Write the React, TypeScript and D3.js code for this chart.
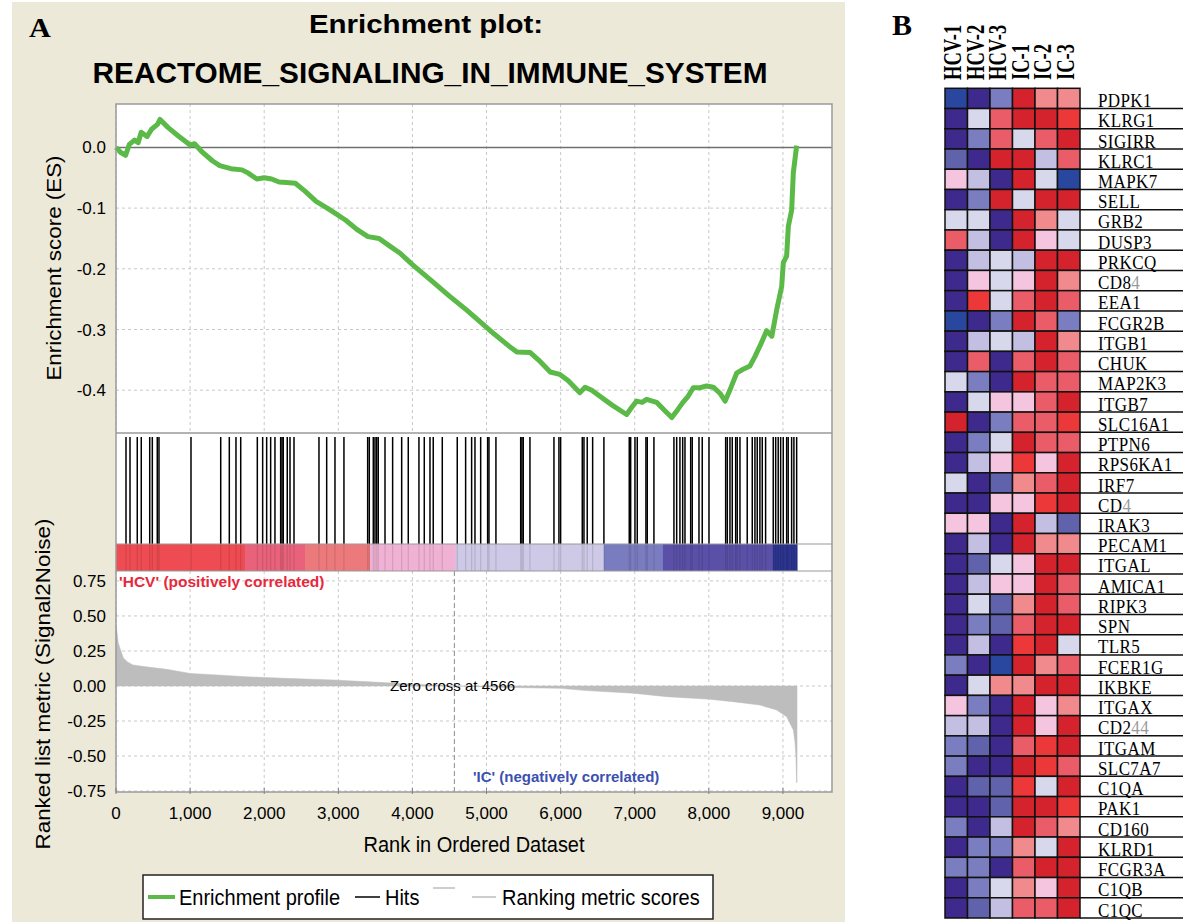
import React from "react";
import * as d3 from "d3";

const TITLE_LINE1 = "Enrichment plot:";
const TITLE_LINE2 = "REACTOME_SIGNALING_IN_IMMUNE_SYSTEM";

// Running enrichment score: [rank, ES]
const esPoints: [number, number][] = [
  [0, 0], [60, -0.008], [130, -0.013], [180, 0.005], [250, 0.012], [300, 0.008], [340, 0.025],
  [420, 0.018], [480, 0.03], [560, 0.038], [594, 0.046], [700, 0.033], [850, 0.018], [1000, 0.004],
  [1060, 0.006], [1150, -0.006], [1300, -0.022], [1400, -0.03], [1550, -0.035], [1700, -0.037],
  [1780, -0.042], [1900, -0.052], [2000, -0.05], [2100, -0.052], [2200, -0.057], [2300, -0.058],
  [2420, -0.059], [2550, -0.072], [2700, -0.089], [2850, -0.1], [2950, -0.108], [3100, -0.12],
  [3250, -0.135], [3400, -0.147], [3550, -0.15], [3700, -0.163], [3830, -0.174], [4000, -0.193],
  [4280, -0.222], [4500, -0.245], [4733, -0.268], [5050, -0.302], [5300, -0.327], [5410, -0.337],
  [5590, -0.338], [5700, -0.35], [5860, -0.37], [5990, -0.374], [6100, -0.384], [6260, -0.404],
  [6330, -0.395], [6420, -0.4], [6530, -0.41], [6700, -0.425], [6890, -0.44], [6960, -0.428],
  [7025, -0.418], [7100, -0.42], [7160, -0.415], [7295, -0.42], [7400, -0.433], [7500, -0.445],
  [7580, -0.432], [7650, -0.42], [7720, -0.41], [7790, -0.396], [7880, -0.396], [7970, -0.393],
  [8060, -0.395], [8150, -0.405], [8220, -0.418], [8300, -0.395], [8375, -0.372], [8470, -0.365],
  [8555, -0.36], [8620, -0.345], [8690, -0.327], [8780, -0.302], [8850, -0.311], [8915, -0.268],
  [8983, -0.229], [9005, -0.19], [9050, -0.179], [9073, -0.13], [9118, -0.103], [9140, -0.042],
  [9185, 0.003],
];

// Ranks of gene-set members (hits)
const hitRanks: number[] = [
  135, 189, 287, 341, 455, 490, 557, 580, 1012, 1413, 1529, 1619, 1683, 1907, 1979, 2033, 2087,
  2145, 2222, 2240, 2257, 2311, 2348, 2402, 2739, 2843, 2955, 3076, 3396, 3418, 3472, 3495, 3518,
  3539, 3630, 3733, 3855, 3944, 4088, 4160, 4237, 4281, 4403, 4605, 4718, 4799, 4844, 4921, 5015,
  5033, 5127, 5461, 5478, 5496, 5586, 5910, 5977, 6000, 6292, 6315, 6359, 6432, 6584, 6926, 6945,
  7003, 7034, 7151, 7169, 7259, 7529, 7566, 7610, 7647, 7678, 7755, 7776, 7867, 7911, 8002, 8227,
  8249, 8285, 8316, 8362, 8383, 8420, 8518, 8586, 8622, 8653, 8689, 8721, 8766, 8869, 8902, 8936,
  8969, 9004, 9050, 9071, 9117, 9148, 9185,
];

// Ranked list metric (Signal2Noise): [rank, value]
const metricPoints: [number, number][] = [
  [0, 0.436], [15, 0.38], [30, 0.31], [54, 0.27], [99, 0.2], [160, 0.17], [230, 0.15], [458, 0.133],
  [684, 0.119], [1000, 0.09], [1358, 0.079], [1763, 0.066], [2257, 0.055], [2932, 0.043],
  [3607, 0.024], [4100, 0.01], [4566, 0], [5300, -0.01], [5991, -0.017], [6351, -0.033],
  [6980, -0.052], [7430, -0.076], [8015, -0.095], [8325, -0.112], [8690, -0.136], [8914, -0.171],
  [9050, -0.219], [9140, -0.314], [9162, -0.4], [9175, -0.5], [9185, -0.69], [9190, -0.69],
];

// Color bar: rank boundaries and colours of the segments
const colorBarStops: number[] = [0, 1741, 2550, 3427, 4583, 6584, 7381, 8865, 9190];
const colorBarColors: string[] = [
  "#ee4c52", "#e8627c", "#ec7a7c", "#f0b2d4", "#cdc9e6", "#7a7cc0", "#5a50a8", "#2c3590",
];

const xTicks: number[] = [0, 1000, 2000, 3000, 4000, 5000, 6000, 7000, 8000, 9000];
const esTicks: number[] = [0, -0.1, -0.2, -0.3, -0.4];
const metricTicks: number[] = [0.75, 0.5, 0.25, 0, -0.25, -0.5, -0.75];
const ZERO_CROSS = 4566;

const samples: string[] = ["HCV-1", "HCV-2", "HCV-3", "IC-1", "IC-2", "IC-3"];
const genes: string[] = [
  "PDPK1", "KLRG1", "SIGIRR", "KLRC1", "MAPK7", "SELL", "GRB2", "DUSP3", "PRKCQ", "CD84", "EEA1",
  "FCGR2B", "ITGB1", "CHUK", "MAP2K3", "ITGB7", "SLC16A1", "PTPN6", "RPS6KA1", "IRF7", "CD4",
  "IRAK3", "PECAM1", "ITGAL", "AMICA1", "RIPK3", "SPN", "TLR5", "FCER1G", "IKBKE", "ITGAX", "CD244",
  "ITGAM", "SLC7A7", "C1QA", "PAK1", "CD160", "KLRD1", "FCGR3A", "C1QB", "C1QC",
];
// number of trailing characters printed in grey in the original label
const greyTail: Record<string, number> = { CD84: 1, CD4: 1, CD244: 2 };

// expression level index (0 = deep blue ... 10 = deep red), one row per gene
const heatLevels: number[][] = [
  [1, 0, 3, 10, 7, 7],
  [0, 5, 8, 10, 10, 9],
  [0, 3, 8, 5, 8, 10],
  [2, 0, 10, 10, 4, 8],
  [6, 4, 0, 10, 5, 1],
  [0, 3, 10, 5, 10, 10],
  [5, 5, 0, 10, 7, 5],
  [8, 4, 0, 10, 6, 5],
  [0, 4, 5, 4, 10, 10],
  [0, 6, 5, 6, 10, 7],
  [0, 9, 5, 8, 10, 8],
  [1, 0, 3, 10, 8, 3],
  [0, 4, 5, 4, 10, 7],
  [0, 8, 0, 8, 10, 8],
  [5, 3, 0, 10, 8, 8],
  [0, 5, 6, 6, 8, 10],
  [10, 0, 3, 8, 8, 9],
  [0, 3, 5, 10, 8, 8],
  [0, 4, 6, 9, 6, 10],
  [5, 0, 2, 7, 8, 10],
  [0, 0, 6, 6, 9, 10],
  [6, 6, 0, 10, 4, 2],
  [0, 4, 0, 10, 7, 7],
  [0, 2, 5, 6, 10, 10],
  [0, 4, 6, 6, 10, 8],
  [0, 5, 2, 7, 10, 8],
  [0, 3, 2, 8, 10, 10],
  [0, 4, 0, 9, 10, 5],
  [3, 0, 1, 10, 7, 8],
  [0, 5, 7, 7, 10, 10],
  [6, 3, 0, 10, 6, 7],
  [4, 4, 0, 10, 6, 10],
  [3, 2, 0, 8, 9, 10],
  [3, 0, 0, 10, 9, 8],
  [0, 2, 2, 9, 5, 10],
  [0, 0, 2, 10, 10, 9],
  [3, 0, 4, 10, 8, 7],
  [0, 3, 3, 7, 5, 10],
  [3, 3, 0, 8, 10, 10],
  [0, 3, 5, 7, 6, 10],
  [0, 2, 4, 8, 8, 10],
];
const heatPalette: string[] = [
  "#3e2a8c", "#2a47a0", "#6062ac", "#7a7ec0", "#c3bfe2", "#d8d8ec",
  "#f5c4de", "#f08a8c", "#ea5c68", "#ec3838", "#d5232d",
];

const SANS = "'Liberation Sans', Arial, sans-serif";
const SERIF = "'Liberation Serif', 'Times New Roman', serif";

export default function App() {
  // panel A geometry
  const left = 116, right = 832;
  const esTop = 104, esBottom = 433;
  const hitsTop = 433, hitsBottom = 544;
  const barBottom = 571;
  const metTop = 571, metBottom = 792;

  const x = d3.scaleLinear().domain([0, 9662]).range([left, right]);
  const yEs = d3.scaleLinear().domain([-0.4705, 0.0715]).range([esBottom, esTop]);
  const yMet = d3.scaleLinear().domain([-0.757, 0.821]).range([metBottom, metTop]);

  const esLine = d3.line<[number, number]>().x((d) => x(d[0])).y((d) => yEs(d[1]));
  const metArea = d3
    .area<[number, number]>()
    .x((d) => x(d[0]))
    .y0(yMet(0))
    .y1((d) => yMet(d[1]));

  // panel B geometry
  const col = d3.scaleBand<string>().domain(samples).range([945, 1080]);
  const row = d3.scaleBand<string>().domain(genes).range([88.3, 918]);

  const grid = "#c8c8c8";
  const border = "#9a9a9a";

  return (
    <svg width={1200} height={922} style={{ position: "absolute", left: 0, top: 0, background: "#fff" }}>
      {/* Panel A background */}
      <rect x={12} y={2} width={833} height={920} fill="#ece9d8" />
      <text transform="translate(29,37) scale(1.12,1)" fontFamily={SERIF} fontWeight="bold" fontSize={27}>A</text>
      <text transform="translate(426,33) scale(1,0.86)" textAnchor="middle" fontFamily={SANS} fontWeight="bold" fontSize={29.5}>
        {TITLE_LINE1}
      </text>
      <text x={430} y={83} textAnchor="middle" fontFamily={SANS} fontWeight="bold" fontSize={29.8}>
        {TITLE_LINE2}
      </text>

      {/* plot area */}
      <rect x={left} y={esTop} width={right - left} height={metBottom - esTop} fill="#fff" />

      {/* ES grid */}
      {xTicks.map((t) => (
        <line key={"gx" + t} x1={x(t)} x2={x(t)} y1={esTop} y2={esBottom} stroke={grid} strokeDasharray="3,3" />
      ))}
      {esTicks.filter((t) => t !== 0).map((t) => (
        <line key={"gy" + t} x1={left} x2={right} y1={yEs(t)} y2={yEs(t)} stroke={grid} strokeDasharray="3,3" />
      ))}
      <line x1={left} x2={right} y1={yEs(0)} y2={yEs(0)} stroke="#707070" strokeWidth={1.5} />
      <path d={esLine(esPoints) || ""} fill="none" stroke="#5bb948" strokeWidth={5} strokeLinejoin="round" />

      {/* ES axis labels */}
      {esTicks.map((t) => (
        <text key={"ey" + t} x={106} y={yEs(t) + 6} textAnchor="end" fontFamily={SANS} fontSize={17}>
          {d3.format(".1f")(t).replace("−", "-")}
        </text>
      ))}
      <text transform="translate(61,268) scale(1,1.12) rotate(-90)" textAnchor="middle" fontFamily={SANS} fontSize={20}>
        Enrichment score (ES)
      </text>

      {/* hits */}
      {hitRanks.map((r, i) => (
        <line key={"h" + i} x1={x(r)} x2={x(r)} y1={hitsTop + 4} y2={hitsBottom} stroke="#000" strokeWidth={1.5} />
      ))}

      {/* colour bar */}
      {colorBarColors.map((c, i) => (
        <rect key={"cb" + i} x={x(colorBarStops[i])} y={hitsBottom} width={x(colorBarStops[i + 1]) - x(colorBarStops[i]) + 0.5}
          height={barBottom - hitsBottom} fill={c} />
      ))}
      {hitRanks.map((r, i) => (
        <line key={"hs" + i} x1={x(r)} x2={x(r)} y1={hitsBottom} y2={barBottom} stroke="#000" strokeOpacity={0.12} strokeWidth={1.2} />
      ))}

      {/* metric grid */}
      {xTicks.map((t) => (
        <line key={"mx" + t} x1={x(t)} x2={x(t)} y1={metTop} y2={metBottom} stroke={grid} strokeDasharray="3,3" />
      ))}
      {metricTicks.map((t) => (
        <line key={"my" + t} x1={left} x2={right} y1={yMet(t)} y2={yMet(t)} stroke={grid} strokeDasharray="3,3" />
      ))}
      <path d={metArea(metricPoints) || ""} fill="#bdbdbd" stroke="#bdbdbd" strokeWidth={0.5} />
      <line x1={x(ZERO_CROSS)} x2={x(ZERO_CROSS)} y1={metTop} y2={metBottom} stroke="#8a8a8a" strokeDasharray="5,3" />
      <text x={390} y={691} fontFamily={SANS} fontSize={15}>Zero cross at {ZERO_CROSS}</text>
      <text x={119} y={587} fontFamily={SANS} fontSize={15.5} fontWeight="bold" fill="#e8283c">
        'HCV' (positively correlated)
      </text>
      <text x={473} y={782} fontFamily={SANS} fontSize={15} fontWeight="bold" fill="#3c50b0">
        'IC' (negatively correlated)
      </text>

      {/* separators and borders */}
      <line x1={left} x2={right} y1={hitsTop} y2={hitsTop} stroke={border} strokeWidth={1.5} />
      <line x1={left} x2={right} y1={hitsBottom} y2={hitsBottom} stroke={border} strokeWidth={1.2} />
      <line x1={left} x2={right} y1={barBottom} y2={barBottom} stroke={border} strokeWidth={1.2} />
      <rect x={left} y={esTop} width={right - left} height={metBottom - esTop} fill="none" stroke={border} strokeWidth={1.5} />
      {xTicks.map((t) => (
        <line key={"tk" + t} x1={x(t)} x2={x(t)} y1={metBottom - 4} y2={metBottom + 2} stroke="#808080" />
      ))}

      {/* metric axis labels */}
      {metricTicks.map((t) => (
        <text key={"mt" + t} x={106} y={yMet(t) + 6} textAnchor="end" fontFamily={SANS} fontSize={17}>
          {d3.format(".2f")(t).replace("−", "-")}
        </text>
      ))}
      {xTicks.map((t) => (
        <text key={"xt" + t} x={x(t)} y={819} textAnchor="middle" fontFamily={SANS} fontSize={17}>
          {d3.format(",")(t)}
        </text>
      ))}
      <text transform="translate(50,684) scale(1,1.12) rotate(-90)" textAnchor="middle" fontFamily={SANS} fontSize={20}>
        Ranked list metric (Signal2Noise)
      </text>
      <text transform="translate(474,852) scale(1,1.12)" textAnchor="middle" fontFamily={SANS} fontSize={20}>
        Rank in Ordered Dataset
      </text>

      {/* legend */}
      <rect x={143} y={875} width={570} height={44} fill="#fff" stroke="#222" strokeWidth={1.5} />
      <line x1={148} x2={175} y1={897} y2={897} stroke="#5bb948" strokeWidth={4} />
      <text transform="translate(179,905) scale(1,1.12)" fontFamily={SANS} fontSize={20}>Enrichment profile</text>
      <line x1={355} x2={380} y1={897} y2={897} stroke="#000" strokeWidth={1.5} />
      <text transform="translate(385,905) scale(1,1.12)" fontFamily={SANS} fontSize={20}>Hits</text>
      <line x1={433} x2={455} y1={888} y2={888} stroke="#bdbdbd" strokeWidth={1.5} />
      <line x1={472} x2={496} y1={897} y2={897} stroke="#bdbdbd" strokeWidth={1.5} />
      <text transform="translate(502,905) scale(1,1.12)" fontFamily={SANS} fontSize={20}>Ranking metric scores</text>

      {/* Panel B */}
      <text x={892} y={35} fontFamily={SERIF} fontWeight="bold" fontSize={30}>B</text>
      {samples.map((s) => (
        <text key={"s" + s}
          transform={`translate(${(col(s) || 0) + col.bandwidth() / 2 + 5},80) scale(1.4,1) rotate(-90)`}
          fontFamily={SERIF} fontWeight="bold" fontSize={18.5}>
          {s}
        </text>
      ))}
      {genes.map((g, gi) =>
        samples.map((s, si) => (
          <rect key={g + s} x={col(s)} y={row(g)} width={col.bandwidth()} height={row.bandwidth()}
            fill={heatPalette[heatLevels[gi][si]]} stroke="#111" strokeWidth={1.5} />
        ))
      )}
      {genes.map((g) => {
        const yb = (row(g) || 0) + row.bandwidth();
        const n = greyTail[g] || 0;
        const main = n ? g.slice(0, g.length - n) : g;
        const tail = n ? g.slice(g.length - n) : "";
        return (
          <g key={"gl" + g}>
            <line x1={1080} x2={1183} y1={yb} y2={yb} stroke="#111" strokeWidth={1.5} />
            <text transform={`translate(1098,${yb - 1.5}) scale(1,1.1)`} fontFamily={SERIF} fontSize={17} letterSpacing={0.4}>
              {main}
              {tail && <tspan fill="#9a9a9a">{tail}</tspan>}
            </text>
          </g>
        );
      })}
    </svg>
  );
}
